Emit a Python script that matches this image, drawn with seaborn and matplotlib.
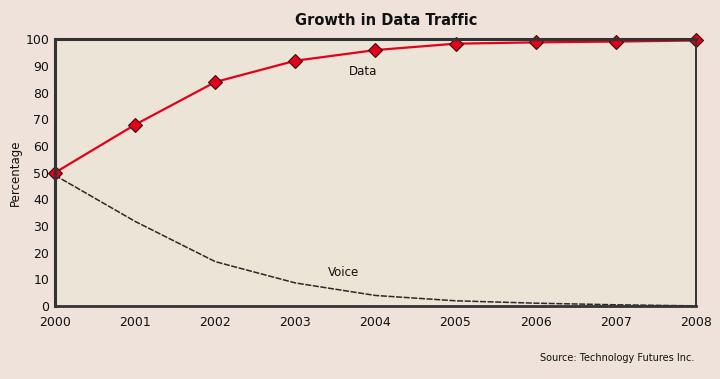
import matplotlib
matplotlib.use("Agg")
import matplotlib.pyplot as plt
import pandas as pd
import seaborn as sns

years = [2000, 2001, 2002, 2003, 2004, 2005, 2006, 2007, 2008]
year_labels = ["2000", "2001", "2002", "2003", "2004", "2005", "2006", "2007", "2008"]
data_share = [50, 68, 84, 92, 96, 98.4, 98.9, 99.2, 99.6]
voice_share = [49, 31.7, 16.6, 8.6, 3.9, 1.9, 1.0, 0.4, 0.0]

sns.set_theme(style="white")
plt.rcParams["font.family"] = ["Liberation Sans Narrow", "DejaVu Sans"]

fig = plt.figure(figsize=(7.2, 3.79), dpi=100, facecolor="#eee2da")
ax = fig.add_axes([0.0764, 0.193, 0.890, 0.703])
ax.set_facecolor("#ece4d6")

data_df = pd.DataFrame({"year": years, "share": data_share})
voice_df = pd.DataFrame({"year": years, "share": voice_share})

sns.lineplot(data=voice_df, x="year", y="share", ax=ax, color="#2a2a2a",
             linewidth=1.1, dashes=False, linestyle=(0, (4, 1)))
sns.lineplot(data=data_df, x="year", y="share", ax=ax, color="#e3001b",
             linewidth=1.6, marker="D", markersize=7,
             markerfacecolor="#e3001b", markeredgecolor="#3a1010",
             markeredgewidth=0.8, clip_on=False)

ax.set_xlim(2000, 2008)
ax.set_ylim(0, 100)
ax.set_xticks(years)
ax.set_xticklabels(year_labels)
ax.set_yticks(range(0, 101, 10))
ax.tick_params(axis="both", direction="in", length=4, width=1, color="#222222",
               labelsize=9, colors="#111111", pad=4)
ax.tick_params(axis="x", pad=7)

for side in ["left", "top", "right", "bottom"]:
    ax.spines[side].set_visible(True)
    ax.spines[side].set_color("#333333")
ax.spines["left"].set_linewidth(2.2)
ax.spines["top"].set_linewidth(2.2)
ax.spines["bottom"].set_linewidth(2.0)
ax.spines["right"].set_linewidth(1.4)

ax.set_xlabel("")
ax.set_ylabel("")
fig.text(0.022, 0.545, "Percentage", fontsize=8.5, rotation=90,
         ha="center", va="center", color="#111111")

ax.text(2003.84, 88, "Data", fontsize=8.5, ha="center", va="center", color="#111111")
ax.text(2003.6, 12.4, "Voice", fontsize=8.5, ha="center", va="center", color="#111111")

fig.text(0.537, 0.947, "Growth in Data Traffic", fontsize=10.5, fontweight="bold",
         ha="center", va="center", color="#111111")
fig.text(0.965, 0.055, "Source: Technology Futures Inc.", fontsize=7,
         ha="right", va="center", color="#111111")

fig.savefig("out.png", dpi=100, facecolor=fig.get_facecolor())
